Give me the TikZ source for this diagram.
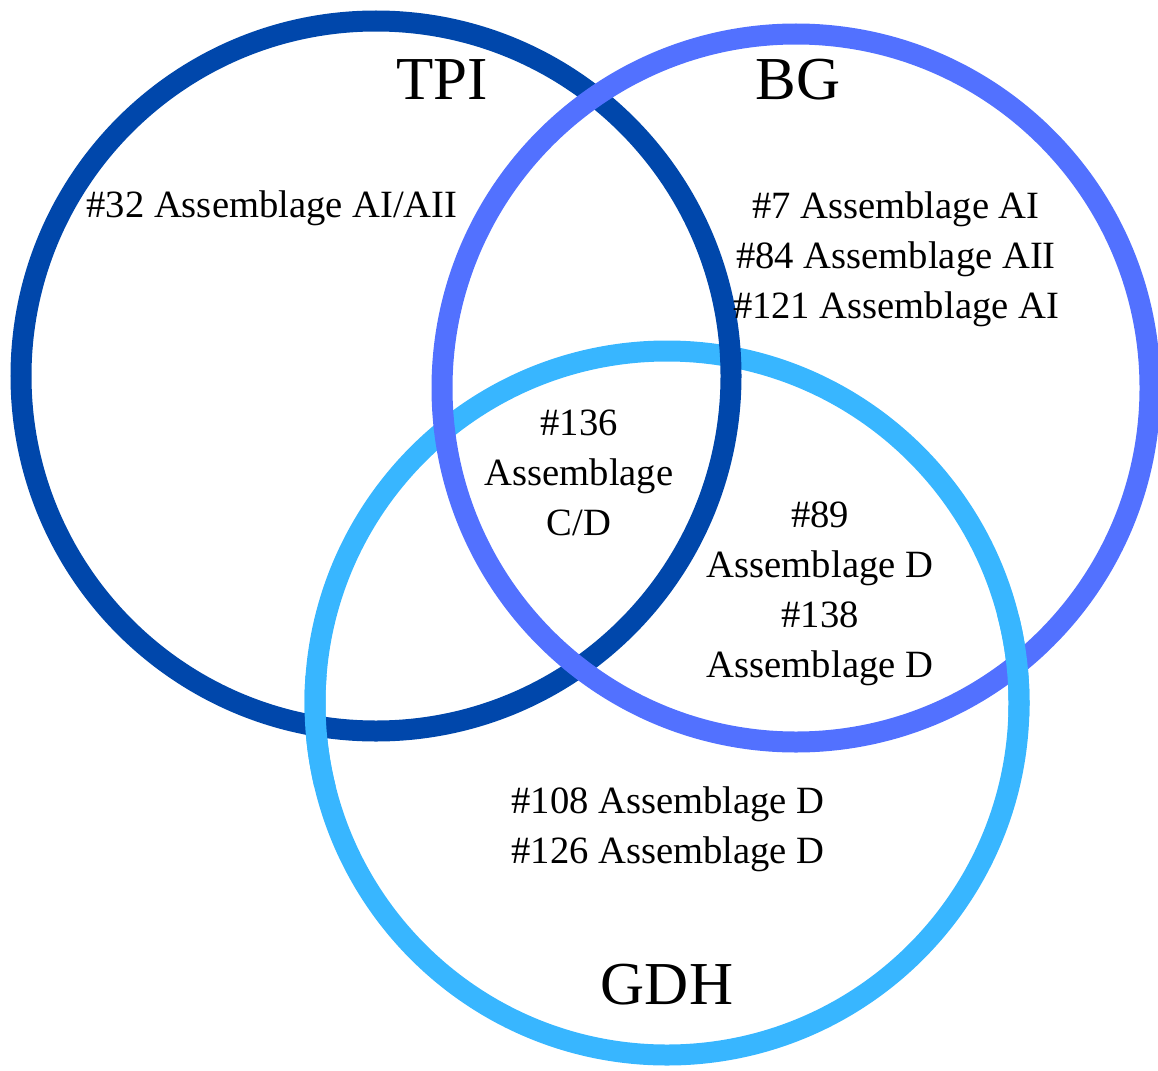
\documentclass[tikz,border=0pt]{standalone}
\usepackage{fontspec}
\setmainfont{Liberation Serif}
\definecolor{tpicol}{RGB}{0,71,171}
\definecolor{bgcol}{RGB}{82,113,255}
\definecolor{gdhcol}{RGB}{56,182,255}
\begin{document}
\begin{tikzpicture}[x=1pt,y=-1pt,
  ring/.style={line width=21pt},
  title/.style={font=\fontsize{61}{70}\selectfont, inner sep=0pt},
  body/.style={font=\fontsize{38.6}{50}\selectfont, align=center, inner sep=0pt}]
\useasboundingbox (0,0) rectangle (1158,1070);
\coordinate (cT) at (376,376);
\coordinate (cB) at (796,388);
\coordinate (cG) at (667,703);
% drawing order gives the weave
\draw[ring, gdhcol] (cG) circle[radius=352];
\draw[ring, tpicol] (cT) circle[radius=355];
\draw[ring, bgcol] (cB) circle[radius=354];
\begin{scope}
  \clip (265,675) rectangle (365,785);
  \draw[ring, gdhcol] (cG) circle[radius=352];
\end{scope}
\begin{scope}
  \clip (975,615) rectangle (1065,715);
  \draw[ring, gdhcol] (cG) circle[radius=352];
\end{scope}
% titles
\node[title] (tTPI) at (442,80) {TPI};
\node[title] (tBG) at (798,80) {BG};
\node[title] (tGDH) at (667,985) {GDH};
% labels
\node[body] (l32) at (272,208) {\#32 Assemblage AI/AII};
\node[body] (lBG) at (896,259) {\#7 Assemblage AI\\\#84 Assemblage AII\\\#121 Assemblage AI};
\node[body] (l136) at (579,473) {\#136\\Assemblage\\C/D};
\node[body] (l89) at (820,594) {\#89\\Assemblage D\\\#138\\Assemblage D};
\node[body] (l108) at (668,829) {\#108 Assemblage D\\\#126 Assemblage D};
\end{tikzpicture}
\end{document}
